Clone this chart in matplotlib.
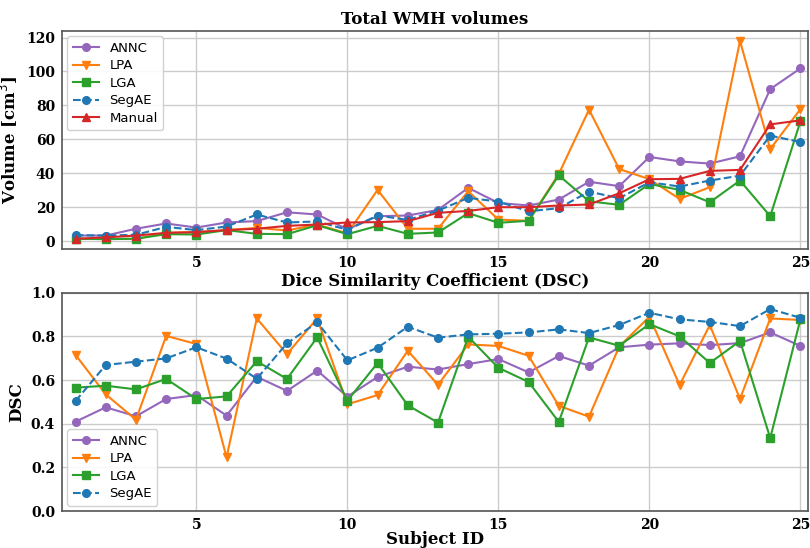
import numpy as np
import matplotlib
matplotlib.use("Agg")
import matplotlib.pyplot as plt

subjects = list(range(1, 26))

# Total WMH volumes (cm^3)
vol_annc = [3.3, 3.3, 7.3, 10.4, 8.0, 11.0, 11.8, 17.0, 15.7, 7.0, 14.7, 15.1, 18.4,
            31.4, 22.5, 21.0, 24.5, 35.0, 32.4, 49.6, 47.0, 45.7, 50.0, 89.6, 101.8]
vol_lpa = [1.4, 1.2, 1.4, 4.9, 5.3, 6.5, 7.8, 6.3, 9.8, 4.5, 30.2, 7.3, 7.3,
           29.4, 12.7, 12.0, 39.6, 77.5, 42.5, 36.5, 24.9, 31.8, 118.0, 54.3, 77.8]
vol_lga = [1.4, 1.2, 1.4, 4.1, 3.9, 6.5, 4.3, 4.1, 9.4, 4.1, 9.0, 4.3, 5.1,
           16.5, 10.8, 12.0, 38.8, 23.5, 21.4, 33.7, 30.2, 22.9, 35.7, 14.7, 70.6]
vol_segae = [3.5, 3.3, 3.7, 8.4, 6.5, 8.6, 15.7, 11.0, 11.6, 6.7, 15.1, 12.5, 18.0,
             25.5, 23.3, 17.6, 19.4, 29.2, 25.3, 34.7, 32.2, 35.7, 38.6, 62.2, 58.4]
vol_manual = [1.4, 2.2, 3.3, 4.9, 5.3, 6.5, 7.3, 9.0, 9.8, 11.0, 11.2, 11.8, 16.7,
              17.8, 20.0, 20.0, 21.0, 21.6, 28.2, 36.5, 36.7, 41.4, 42.0, 68.8, 71.2]

# Dice similarity coefficient
dsc_annc = [0.409, 0.475, 0.434, 0.513, 0.531, 0.437, 0.615, 0.550, 0.643, 0.524, 0.614, 0.661, 0.648,
            0.673, 0.696, 0.635, 0.710, 0.666, 0.750, 0.762, 0.768, 0.760, 0.769, 0.818, 0.756]
dsc_lpa = [0.715, 0.534, 0.418, 0.802, 0.765, 0.246, 0.882, 0.719, 0.882, 0.489, 0.531, 0.734, 0.578,
           0.763, 0.756, 0.711, 0.482, 0.432, 0.753, 0.890, 0.577, 0.852, 0.513, 0.882, 0.875]
dsc_lga = [0.565, 0.574, 0.557, 0.605, 0.513, 0.525, 0.686, 0.605, 0.795, 0.505, 0.678, 0.484, 0.405,
           0.798, 0.656, 0.591, 0.408, 0.795, 0.757, 0.856, 0.800, 0.678, 0.779, 0.334, 0.878]
dsc_segae = [0.504, 0.669, 0.684, 0.699, 0.750, 0.698, 0.606, 0.768, 0.864, 0.690, 0.748, 0.844, 0.794,
             0.809, 0.812, 0.818, 0.832, 0.815, 0.852, 0.908, 0.878, 0.866, 0.847, 0.925, 0.885]

methods = [
    ('ANNC', 'tab:purple', 'o', '-'),
    ('LPA', 'tab:orange', 'v', '-'),
    ('LGA', 'tab:green', 's', '-'),
    ('SegAE', 'tab:blue', 'o', '--'),
    ('Manual', 'tab:red', '^', '-'),
]
vol_data = [vol_annc, vol_lpa, vol_lga, vol_segae, vol_manual]
dsc_data = [dsc_annc, dsc_lpa, dsc_lga, dsc_segae]

serif_bold = dict(family='DejaVu Serif', weight='bold')

fig = plt.figure(figsize=(8.1, 5.48), dpi=100)
ax1 = fig.add_axes([0.0765, 0.5456, 0.921, 0.3978])
ax2 = fig.add_axes([0.0765, 0.0675, 0.921, 0.3984])

for (name, color, marker, ls), vals in zip(methods, vol_data):
    ax1.plot(subjects, vals, color=color, marker=marker, linestyle=ls,
             linewidth=1.5, markersize=5.5, label=name)
for (name, color, marker, ls), vals in zip(methods[:4], dsc_data):
    ax2.plot(subjects, vals, color=color, marker=marker, linestyle=ls,
             linewidth=1.5, markersize=5.5, label=name)

ax1.set_xlim(0.55, 25.25)
ax2.set_xlim(0.55, 25.25)
ax2.set_ylim(0, 1.0)
ax1.set_yticks([0, 20, 40, 60, 80, 100, 120])
ax2.set_yticks([0.0, 0.2, 0.4, 0.6, 0.8, 1.0])

for ax in [ax1, ax2]:
    ax.set_xticks([5, 10, 15, 20, 25])
    ax.grid(True, color='#cccccc', linewidth=1.0)
    ax.set_axisbelow(True)
    for sp in ax.spines.values():
        sp.set_color('#555555')
        sp.set_linewidth(1.2)
    ax.tick_params(length=0, pad=5)
    for lbl in ax.get_xticklabels() + ax.get_yticklabels():
        lbl.set_fontfamily('DejaVu Serif')
        lbl.set_fontweight('bold')
        lbl.set_fontsize(10)

ax1.set_title('Total WMH volumes', fontsize=12, pad=5, **serif_bold)
ax1.set_ylabel('Volume [cm$^3$]', fontsize=12, **serif_bold)
ax2.set_title('Dice Similarity Coefficient (DSC)', fontsize=12, pad=5, **serif_bold)
ax2.set_ylabel('DSC', fontsize=12, **serif_bold)
ax2.set_xlabel('Subject ID', fontsize=12, labelpad=-1, **serif_bold)

legend_kw = dict(fontsize=9.5, framealpha=0.9, edgecolor='#cccccc',
                 labelspacing=0.35, handlelength=2.0, borderaxespad=0.4)
ax1.legend(loc='upper left', **legend_kw)
ax2.legend(loc='lower left', **legend_kw)

fig.savefig('out.png', dpi=100)
